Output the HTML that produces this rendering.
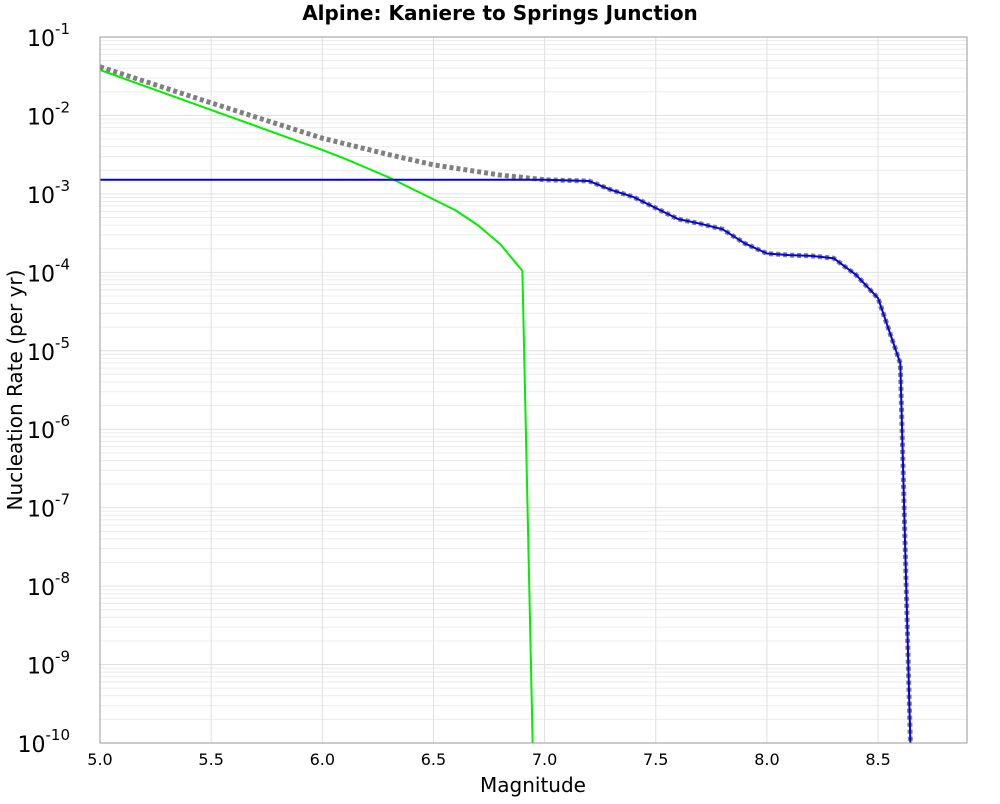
<!DOCTYPE html>
<html><head><meta charset="utf-8"><style>
body{margin:0;background:#fff;font-family:"DejaVu Sans","Liberation Sans",sans-serif}
svg text{font-family:"DejaVu Sans","Liberation Sans",sans-serif}
</style></head><body>
<svg id="chart" width="1000" height="800" xmlns="http://www.w3.org/2000/svg">
<rect width="1000" height="800" fill="#fff"/>
<text x="500" y="20" text-anchor="middle" font-size="20" font-weight="bold">Alpine: Kaniere to Springs Junction</text>
<g id="grid"></g>
<g id="series"></g>
<rect x="100" y="37" width="867" height="706" fill="none" stroke="#999" stroke-width="1"/>
<g id="axes"></g>
<text x="533" y="792" text-anchor="middle" font-size="20">Magnitude</text>
<text transform="translate(22,390) rotate(-90)" text-anchor="middle" font-size="20">Nucleation Rate (per yr)</text>
</svg>
<script>
const xTicks=[5.0,5.5,6.0,6.5,7.0,7.5,8.0,8.5];
const yDecades=[-1,-2,-3,-4,-5,-6,-7,-8,-9,-10];
const greenMag=[5.0,5.5,6.0,6.1,6.2,6.3,6.4,6.5,6.6,6.7,6.8,6.9,6.95];
const greenLog=[-1.42,-1.93,-2.44,-2.55,-2.67,-2.79,-2.93,-3.07,-3.21,-3.40,-3.64,-3.98,-10.5];
const grayMag=[5.0,5.5,6.0,6.3,6.5,6.8,7.0,7.2,7.3,7.4,7.5,7.6,7.7,7.8,7.9,8.0,8.1,8.2,8.3,8.4,8.5,8.6,8.65];
const grayLog=[-1.38,-1.84,-2.29,-2.50,-2.63,-2.76,-2.82,-2.836,-2.95,-3.04,-3.18,-3.32,-3.38,-3.45,-3.63,-3.76,-3.78,-3.79,-3.82,-4.03,-4.33,-5.16,-10.5];
const blueMag=[5.0,7.0,7.2,7.3,7.4,7.5,7.6,7.7,7.8,7.9,8.0,8.1,8.2,8.3,8.4,8.5,8.6,8.65];
const blueLog=[-2.82,-2.82,-2.836,-2.95,-3.04,-3.18,-3.32,-3.38,-3.45,-3.63,-3.76,-3.78,-3.79,-3.82,-4.03,-4.33,-5.16,-10.5];
const L=100,R=967,T=37,B=743,xMin=5.0,xMax=8.9,yTop=-1,yBot=-10;
const X=v=>L+(v-xMin)/(xMax-xMin)*(R-L);
const Y=lg=>T+(yTop-lg)/(yTop-yBot)*(B-T);
const NS="http://www.w3.org/2000/svg";
function mk(tag,attrs,parent){const e=document.createElementNS(NS,tag);for(const k in attrs)e.setAttribute(k,attrs[k]);parent.appendChild(e);return e;}
const grid=document.getElementById('grid'),axes=document.getElementById('axes'),ser=document.getElementById('series');
for(const d of yDecades){
  if(d>yBot){for(let m=2;m<=9;m++){const y=Y(d-1+Math.log10(m));
    const l=mk('line',{x1:L,x2:R,y1:y,y2:y,stroke:'#ececec','stroke-width':1},grid);
    
    }}
  const y=Y(d);
  const g=mk('line',{x1:L,x2:R,y1:y,y2:y,stroke:'#e0e0e0','stroke-width':1},grid);
  
  
  const t=mk('text',{x:70,y:y+9,'text-anchor':'end','font-size':22},axes);
  
  
  t.textContent='10';
  const s=mk('tspan',{dy:-12,'font-size':15},t);s.textContent=String(d);
}
for(const v of xTicks){
  const x=X(v);
  const g=mk('line',{x1:x,x2:x,y1:T,y2:B,stroke:'#e0e0e0','stroke-width':1},grid);
  
  
  const t=mk('text',{x:x,y:765,'text-anchor':'middle','font-size':16},axes);
  
  
  t.textContent=v.toFixed(1);
}
const cp=mk('clipPath',{id:'clip'},ser);
mk('rect',{x:L,y:T,width:R-L,height:B-T},cp);
function line(xs,ys,attrs,name){
  const p=mk('polyline',Object.assign({points:xs.map((v,i)=>X(v)+','+Y(ys[i])).join(' '),fill:'none','clip-path':'url(#clip)','stroke-linejoin':'round'},attrs),ser);
  
  
}
line(grayMag,grayLog,{stroke:'#808080','stroke-width':5,'stroke-dasharray':'4,3'},'total-rate-line');
line(greenMag,greenLog,{stroke:'#00ee00','stroke-width':2},'green-rate-line');
line(blueMag,blueLog,{stroke:'#0000ee','stroke-width':2},'blue-rate-line');
</script>
</body></html>
